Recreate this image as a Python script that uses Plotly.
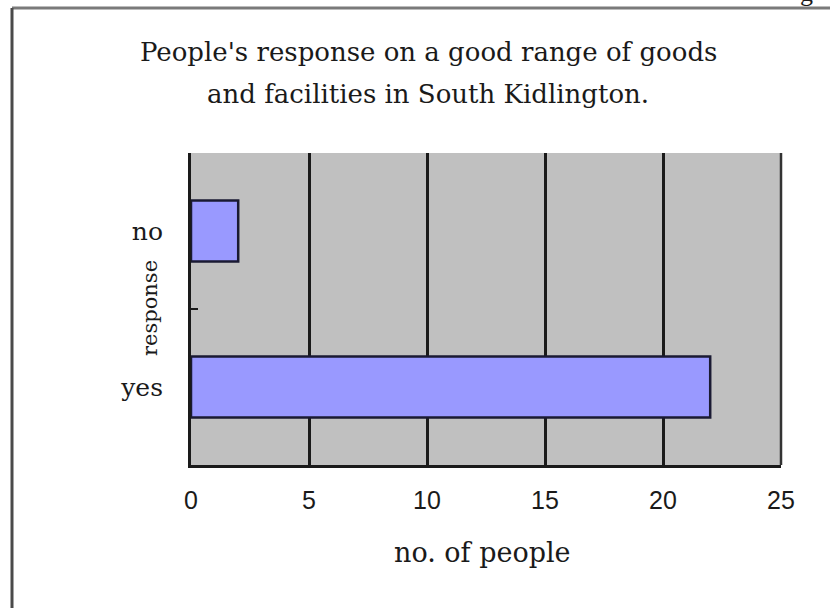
import plotly.graph_objects as go

# ---- data ----
responses = ["yes", "no"]
people = [22, 2]
x_ticks = [0, 5, 10, 15, 20, 25]

title_line1 = "People's response on a good range of goods"
title_line2 = "and facilities in South Kidlington."
x_title = "no. of people"
y_title = "response"

W, H = 830, 608
L, R, T, B = 191, 781, 153, 465  # plot area in pixels


def px(x):
    return (x - L) / (R - L)


def py(y):
    return (B - y) / (B - T)


SERIF = "DejaVu Serif"

fig = go.Figure(
    go.Bar(
        x=people,
        y=responses,
        orientation="h",
        width=0.39,
        marker=dict(color="#9999FF", line=dict(color="#1a1a33", width=2.5)),
        hoverinfo="skip",
    )
)

fig.update_layout(
    width=W,
    height=H,
    margin=dict(l=L, r=W - R, t=T, b=H - B, pad=0),
    paper_bgcolor="white",
    plot_bgcolor="#C0C0C0",
    showlegend=False,
    xaxis=dict(
        range=[0, 25],
        tickvals=x_ticks,
        ticktext=[str(v) for v in x_ticks],
        showgrid=True,
        gridcolor="#1a1a1a",
        gridwidth=2.5,
        zeroline=False,
        showline=True,
        linecolor="#1a1a1a",
        linewidth=3,
        ticks="",
        ticklabelstandoff=11,
        tickfont=dict(family="Liberation Sans", size=25, color="#1a1a1a"),
        fixedrange=True,
    ),
    yaxis=dict(
        categoryorder="array",
        categoryarray=responses,
        showgrid=False,
        zeroline=False,
        showline=True,
        linecolor="#1a1a1a",
        linewidth=3,
        ticks="inside",
        ticklen=7,
        tickwidth=2,
        tickcolor="#1a1a1a",
        tickson="boundaries",
        ticklabelstandoff=20,
        tickfont=dict(family=SERIF, size=25, color="#1a1a1a"),
        fixedrange=True,
    ),
    shapes=[
        dict(type="line", xref="x domain", yref="y domain",
             x0=1, y0=0, x1=1, y1=1,
             line=dict(color="#333333", width=2.5)),
        dict(type="line", xref="paper", yref="paper",
             x0=px(12), y0=py(8), x1=px(840), y1=py(8),
             line=dict(color="#7a7a7a", width=3)),
        dict(type="line", xref="paper", yref="paper",
             x0=px(12), y0=py(8), x1=px(12), y1=py(620),
             line=dict(color="#4a4a4a", width=3)),
    ],
    annotations=[
        dict(text=title_line1, xref="paper", yref="paper", x=px(428), y=py(52),
             xanchor="center", yanchor="middle", showarrow=False,
             font=dict(family=SERIF, size=26, color="#1a1a1a")),
        dict(text=title_line2, xref="paper", yref="paper", x=px(428), y=py(94),
             xanchor="center", yanchor="middle", showarrow=False,
             font=dict(family=SERIF, size=26, color="#1a1a1a")),
        dict(text=x_title, xref="paper", yref="paper", x=px(482), y=py(552),
             xanchor="center", yanchor="middle", showarrow=False,
             font=dict(family=SERIF, size=27, color="#1a1a1a")),
        dict(text=y_title, xref="paper", yref="paper", x=px(150), y=py(308),
             xanchor="center", yanchor="middle", showarrow=False, textangle=-90,
             font=dict(family=SERIF, size=21, color="#1a1a1a")),
        dict(text="g", xref="paper", yref="paper", x=px(806), y=py(-8),
             xanchor="center", yanchor="middle", showarrow=False,
             font=dict(family="Liberation Serif", size=26, color="#1a1a1a")),
    ],
)

fig.write_html("out.html", include_plotlyjs=True, config={"displayModeBar": False})
